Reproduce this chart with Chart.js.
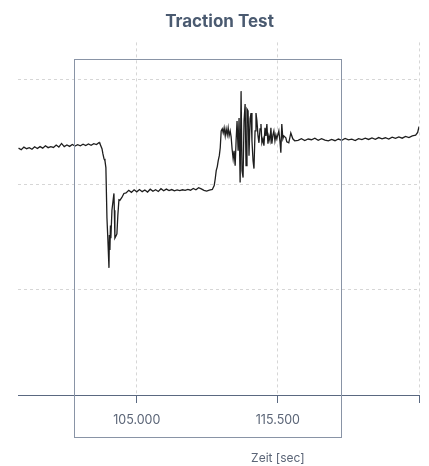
<!DOCTYPE html>
<html>
<head>
<meta charset="utf-8">
<script src="https://cdn.jsdelivr.net/npm/chart.js@4.4.0/dist/chart.umd.min.js"></script>
<style>
  html, body { margin: 0; padding: 0; background: #fff; }
  #wrap { position: relative; width: 429px; height: 466px; }
  #box { position: absolute; left: 74px; top: 59px; width: 266px; height: 377px; border: 1.5px solid #8994a6; pointer-events: none; }
</style>
</head>
<body>
<div id="wrap">
  <canvas id="traction" width="429" height="466"></canvas>
  <div id="box"></div>
</div>
<script>
// time in seconds, force (arbitrary units, grid every 100)
const times = [
  96.2, 96.4, 96.6, 96.8, 97.0, 97.2, 97.4, 97.6, 97.8, 98.0,
  98.2, 98.4, 98.6, 98.8, 99.0, 99.2, 99.4, 99.6, 99.8, 100.0,
  100.2, 100.4, 100.6, 100.8, 101.0, 101.2, 101.4, 101.6, 101.8, 102.0,
  102.2, 102.26, 102.41, 102.48, 102.56, 102.63, 102.70, 102.78, 102.85, 102.93,
  102.96, 103.00, 103.04, 103.07, 103.15, 103.22, 103.30, 103.33, 103.37, 103.45,
  103.52, 103.59, 103.67, 103.74, 103.89, 104.04,
  104.2, 104.4, 104.6, 104.8, 105.0, 105.2, 105.4, 105.6, 105.8, 106.0,
  106.2, 106.4, 106.6, 106.8, 107.0, 107.2, 107.4, 107.6, 107.8, 108.0,
  108.2, 108.4, 108.6, 108.8, 109.0, 109.2, 109.4, 109.6, 109.8, 110.0,
  110.2, 110.4, 110.62, 110.76, 110.84, 110.91, 110.99, 111.06, 111.14, 111.21,
  111.28, 111.36, 111.43, 111.50, 111.58, 111.65, 111.73, 111.80, 111.87, 111.95,
  112.02, 112.09, 112.17, 112.24, 112.32, 112.39, 112.46, 112.54, 112.61, 112.69,
  112.76, 112.83, 112.91, 112.98, 113.06, 113.13, 113.20, 113.28, 113.35, 113.43,
  113.50, 113.57, 113.65, 113.72, 113.80, 113.87, 113.94, 114.02, 114.09, 114.17,
  114.24, 114.31, 114.39, 114.46, 114.54, 114.61, 114.68, 114.76, 114.83, 114.91,
  114.98, 115.05, 115.13, 115.20, 115.28, 115.35, 115.42, 115.57, 115.65, 115.72,
  115.79, 115.87, 115.94, 116.09, 116.16, 116.31, 116.46, 116.61, 116.75,
  117.0, 117.25, 117.5, 117.75, 118.0, 118.25, 118.5, 118.75, 119.0, 119.25,
  119.5, 119.75, 120.0, 120.25, 120.5, 120.75, 121.0, 121.25, 121.5, 121.75,
  122.0, 122.25, 122.5, 122.75, 123.0, 123.25, 123.5, 123.75, 124.0, 124.25,
  124.5, 124.75, 125.0, 125.25, 125.5, 125.75, 125.9, 126.0
];
const force = [
  234.5, 233, 235.5, 234, 235, 233.5, 235.8, 234.2, 236, 234.5,
  236.8, 235, 236, 235.2, 237.5, 235.5, 239, 236, 237.5, 236.2,
  238, 236.5, 237.8, 236.8, 238.2, 237, 238.5, 237.2, 238.8, 238,
  240, 238.7, 234, 229, 224.5, 222.6, 216, 168, 147, 120.8,
  152, 137.7, 161, 149, 175.5, 183, 191.5, 175.5, 149, 151,
  153, 170.8, 185.4, 184.9, 187.7, 191.5,
  192, 194.5, 192.5, 195, 193, 195.2, 193.2, 194.8, 192.8, 195.5,
  193.5, 195, 193.4, 196, 194, 195.6, 194.2, 195.2, 194, 194.8,
  194.2, 195, 194.4, 195.4, 194.6, 196.2, 195, 197, 195.8, 194.5,
  193.8, 194.6, 195.3, 199, 205.7, 213.2, 217, 222.6, 227.4, 234.9,
  250.9, 252.8, 249, 253.8, 246.2, 252.8, 247.2, 253.8, 246.2, 250.9,
  245.3, 234, 224.5, 232, 217.9, 241.5, 260.4, 232, 263.2, 201.9,
  288.7, 213.2, 206.6, 260.4, 276.4, 217.9, 271.7, 269.8, 227.4, 262.3,
  267.9, 241.5, 222.6, 215.1, 250.9, 267.9, 260.4, 246.2, 239.6, 252.8,
  257.5, 239.6, 243.4, 236.8, 253.8, 246.2, 257.5, 238.7, 246.2, 241.5,
  253.8, 238.7, 247.2, 250.9, 241.5, 247.2, 243.4, 250.9, 241.5, 230.2,
  257.5, 243.4, 246.2, 244.3, 240.6, 239.6, 249, 243.4, 241.5,
  242, 243.5, 241.8, 243.2, 242.5, 244, 242, 243.5, 242.2, 241.4,
  242.8, 241.6, 243.2, 242, 243.8, 242.4, 243, 241.8, 243.6, 242.6,
  244, 242.8, 244.2, 243, 244.6, 243.4, 244.4, 243.2, 245, 243.8,
  245.2, 244, 245.6, 244.6, 246.2, 246.8, 249.5, 255
];
const xTicks = [105, 115.5, 126];
const xTickLabels = ['105.000', '115.500', ''];

const axisTitle = {
  id: 'axisTitle',
  afterDraw(chart) {
    const ctx = chart.ctx;
    const x = chart.scales.x.getPixelForValue(115.5);
    ctx.save();
    ctx.font = '12px Inter';
    ctx.fillStyle = '#5b6577';
    ctx.textAlign = 'center';
    ctx.textBaseline = 'middle';
    ctx.fillText('Zeit [sec]', x, 458);
    ctx.restore();
  }
};

new Chart(document.getElementById('traction'), {
  type: 'line',
  data: {
    datasets: [{
      data: times.map((t, i) => ({ x: t, y: force[i] })),
      borderColor: '#1e1e1e',
      borderWidth: 1.3,
      pointRadius: 0,
      tension: 0,
      fill: false
    }]
  },
  options: {
    responsive: false,
    animation: false,
    layout: { padding: { left: 18, right: 8, top: 0, bottom: 28 } },
    plugins: {
      legend: { display: false },
      tooltip: { enabled: false },
      title: {
        display: true,
        text: 'Traction Test',
        color: '#4a5a70',
        font: { family: 'Inter', size: 17, weight: 'bold' },
        padding: { top: 12, bottom: 10 }
      }
    },
    scales: {
      x: {
        type: 'linear',
        min: 96.16,
        max: 126,
        afterBuildTicks: scale => { scale.ticks = xTicks.map(v => ({ value: v })); },
        ticks: {
          autoSkip: false,
          maxRotation: 0,
          padding: 10,
          color: '#5b6577',
          font: { family: 'Inter', size: 12.5 },
          callback: (v, i) => xTickLabels[i]
        },
        grid: {
          color: '#d6d6d6',
          tickColor: '#5a6880',
          tickLength: 8,
          tickBorderDash: []
        },
        border: { display: true, color: '#5a6880', width: 1, dash: [3, 3] }
      },
      y: {
        min: 0,
        max: 335,
        ticks: { display: false, stepSize: 100, includeBounds: false },
        grid: { color: '#d6d6d6', drawTicks: false },
        border: { display: false, dash: [3, 3] }
      }
    }
  },
  plugins: [axisTitle]
});
</script>
</body>
</html>
